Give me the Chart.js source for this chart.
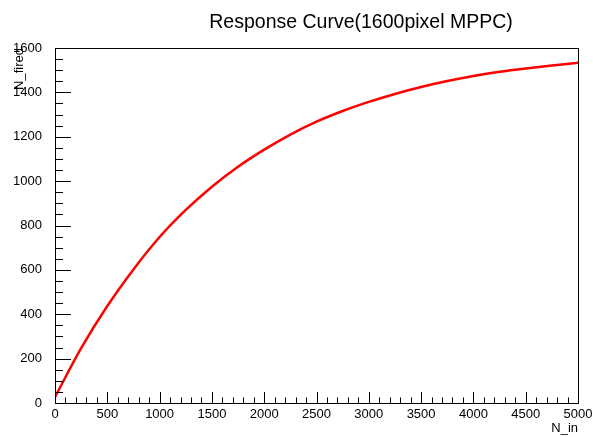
<!DOCTYPE html>
<html>
<head>
<meta charset="utf-8">
<script src="https://cdn.jsdelivr.net/npm/chart.js@4"></script>
<style>
  html, body { margin:0; padding:0; background:#fff; }
  #wrap { width:593px; height:437px; }
</style>
</head>
<body>
<div id="wrap"><canvas id="chart" width="593" height="437"></canvas></div>
<script>
/* response curve */
const nIn    = [0, 250, 500, 750, 1000, 1250, 1500, 1750, 2000, 2250, 2500, 2750, 3000, 3250, 3500, 3750, 4000, 4250, 4500, 4750, 5000];
const nFired = [27, 247, 437, 602, 748, 870, 975, 1065, 1142, 1210, 1268, 1316, 1357, 1393, 1424, 1451, 1474, 1493, 1508, 1521, 1533];

const X_RANGE = [0, 5000];
const Y_RANGE = [0, 1600];
const X_MAJOR = 500, X_MINOR = 100;
const Y_MAJOR = 200, Y_MINOR = 50;

const TITLE  = "Response Curve(1600pixel MPPC)";
const XTITLE = "N_in";
const YTITLE = "N_fired";

const FONT = "'Liberation Sans', Arial, Helvetica, sans-serif";

// ROOT style frame: full box, ticks pointing inward, titles
const rootFrame = {
  id: "rootFrame",
  afterDraw(chart){
    const {ctx, chartArea:a, scales:{x, y}} = chart;
    ctx.save();
    ctx.strokeStyle = "#000";
    ctx.lineWidth = 1;
    ctx.strokeRect(Math.round(a.left)+0.5, Math.round(a.top)+0.5,
                   Math.round(a.right-a.left), Math.round(a.bottom-a.top));
    ctx.beginPath();
    for(let v=X_RANGE[0]; v<=X_RANGE[1]; v+=X_MINOR){
      const px = Math.round(x.getPixelForValue(v))+0.5;
      const len = v % X_MAJOR === 0 ? 11 : 5.5;
      ctx.moveTo(px, a.bottom); ctx.lineTo(px, a.bottom-len);
    }
    for(let v=Y_RANGE[0]; v<=Y_RANGE[1]; v+=Y_MINOR){
      const py = Math.round(y.getPixelForValue(v))+0.5;
      const len = v % Y_MAJOR === 0 ? 16 : 8;
      ctx.moveTo(a.left, py); ctx.lineTo(a.left+len, py);
    }
    ctx.stroke();

    ctx.fillStyle = "#000";
    ctx.font = `19.5px ${FONT}`;
    ctx.textAlign = "center";
    ctx.textBaseline = "alphabetic";
    ctx.fillText(TITLE, 361, 28);

    ctx.font = `13px ${FONT}`;
    ctx.textAlign = "right";
    ctx.fillText(XTITLE, a.right, 432);

    ctx.translate(23, a.top);
    ctx.rotate(-Math.PI/2);
    ctx.textAlign = "right";
    ctx.fillText(YTITLE, 0, 0);
    ctx.restore();
  }
};

new Chart(document.getElementById("chart"), {
  type: "line",
  data: {
    datasets: [{
      label: "response",
      data: nIn.map((v,i)=>({x:v, y:nFired[i]})),
      borderColor: "#ff0000",
      borderWidth: 2.5,
      pointRadius: 0,
      fill: false,
      cubicInterpolationMode: "monotone",
    }],
  },
  options: {
    responsive: false,
    animation: false,
    layout: { padding: { top:48, right:15, left:0, bottom:0 } },
    plugins: { legend:{display:false}, tooltip:{enabled:false}, title:{display:false} },
    scales: {
      x: {
        type: "linear", min: X_RANGE[0], max: X_RANGE[1],
        grid: { display:false }, border: { display:false },
        ticks: { stepSize: X_MAJOR, color:"#000", padding:-4, maxRotation:0, autoSkip:false,
                 font:{ family:FONT, size:13 }, callback: v => String(v) },
        afterFit: s => { s.height = 34; },
      },
      y: {
        type: "linear", min: Y_RANGE[0], max: Y_RANGE[1],
        grid: { display:false }, border: { display:false },
        ticks: { stepSize: Y_MAJOR, color:"#000", padding:5,
                 font:{ family:FONT, size:13 }, callback: v => String(v) },
        afterFit: s => { s.width = 55; },
      },
    },
  },
  plugins: [rootFrame],
});
</script>
</body>
</html>
